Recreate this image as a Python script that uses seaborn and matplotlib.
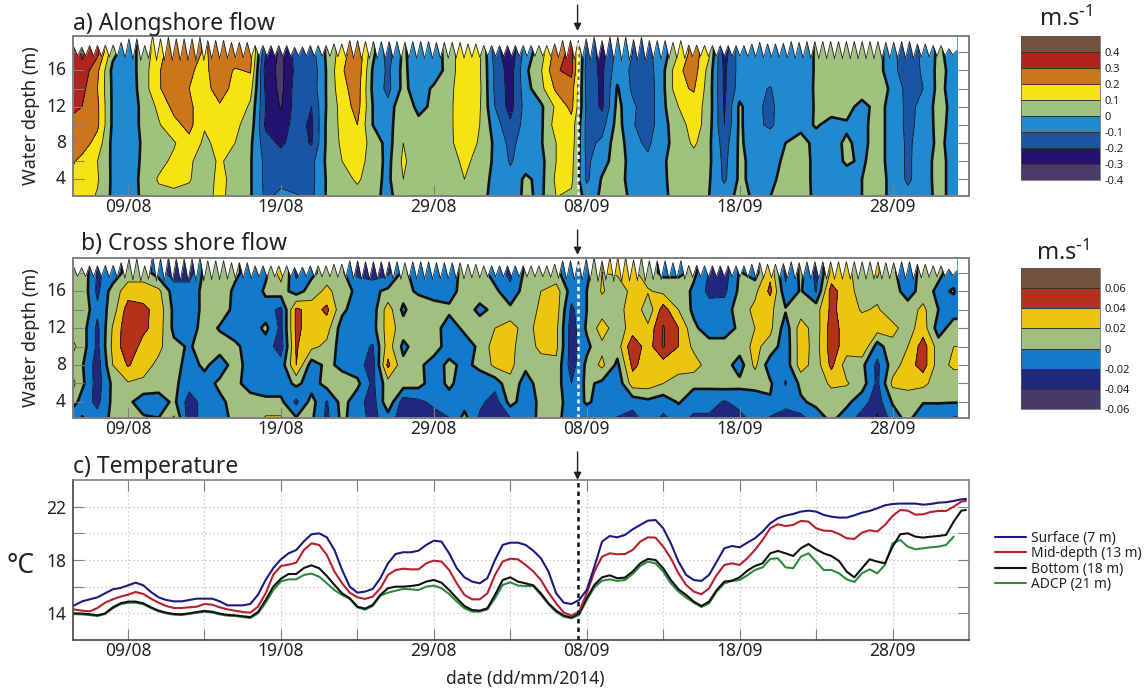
import numpy as np
import pandas as pd
import matplotlib
matplotlib.use("Agg")
import matplotlib.pyplot as plt
from matplotlib.colors import ListedColormap, BoundaryNorm
from matplotlib.transforms import ScaledTranslation
import seaborn as sns

# ---------- data ----------
tick_days = [0, 10, 20, 30, 40, 50]
tick_labels = ["09/08", "19/08", "29/08", "08/09", "18/09", "28/09"]
event_day = 29.4

# columns of the flow fields: days after 09/08
flow_days = [-3.6, -3, -2, -1, 0] + list(range(1, 55)) + [54.25]
flow_depths = [2, 4, 6, 8, 10, 12, 14, 16, 18, 20]

along_18m = [.32,.42,.33,.03,-.06,
 .05,.15,.28,.28,.18,.27,.27,.25,-.2,-.33,
 -.15,-.14,.02,.15,.29,.03,-.15,.02,-.07,-.06,
 .05,.17,.12,-.15,-.28,-.05,.05,.25,.33,-.12,
 -.25,-.06,-.1,-.12,-.05,.1,.25,.12,-.25,-.05,
 -.05,-.05,-.05,-.05,.01,.05,.05,.05,.05,-.08,
 -.15,-.08,.02,-.04,-.04]
along_16m = [.37,.37,.22,-.03,-.06,
 .05,.19,.27,.21,.18,.25,.19,.21,-.25,-.33,
 -.17,-.17,.01,.19,.27,-.01,-.12,.03,-.08,-.07,
 .05,.17,.11,-.12,-.25,-.02,.09,.29,.33,-.15,
 -.22,-.04,-.12,-.15,-.02,.18,.25,.06,-.22,-.06,
 -.08,-.06,-.05,-.05,.01,.05,.05,.06,.05,-.08,
 -.14,-.09,.03,-.03,-.04]
along_14m = [.35,.33,.2,-.02,-.07,
 .05,.19,.26,.2,.17,.24,.17,.14,-.22,-.33,
 -.15,-.16,.01,.17,.25,-.02,-.13,.03,-.06,.02,
 .07,.17,.12,-.12,-.24,-.04,.07,.22,.25,-.13,
 -.22,.01,-.12,-.16,-.02,.18,.21,.05,-.22,-.05,
 -.08,-.105,-.05,-.04,.01,.05,.05,.05,.05,-.02,
 -.14,-.1,.03,-.04,-.04]
along_12m = [.32,.3,.22,-.02,-.07,
 .03,.12,.23,.22,.14,.19,.19,.08,-.2,-.31,
 -.15,-.2,.01,.14,.24,-.0,-.07,.1,-.04,.03,
 .08,.16,.11,-.1,-.24,-.06,-.02,.12,.23,-.12,
 -.22,.03,-.08,-.16,-.02,.1,.16,.05,-.21,.02,
 -.08,-.12,-.05,-.05,.01,.04,.03,-.03,.03,-.03,
 -.13,-.07,.04,-.03,-.03]
along_10m = [.27,.26,.22,-.02,-.07,
 .03,.09,.17,.23,.11,.2,.12,.06,-.22,-.25,
 -.16,-.22,.02,.13,.2,.0,-.05,.1,.04,.07,
 .08,.16,.1,-.05,-.18,-.06,-.02,.15,.16,-.13,
 -.14,.04,-.09,-.16,-.02,.04,.16,.04,-.2,.02,
 -.08,-.115,-.05,-.04,.01,-.03,-.01,-.02,.03,-.03,
 -.13,-.06,.03,-.03,-.03]
along_8m = [.26,.25,.16,-.03,-.08,
 .02,.05,.09,.17,.08,.13,.1,.02,-.16,-.22,
 -.15,-.21,.02,.12,.15,.07,-.04,.1,.04,.04,
 .08,.15,.09,-.02,-.13,-.05,-.01,.1,.15,-.13,
 -.08,.06,-.07,-.12,-.02,.03,.12,.02,-.15,.02,
 -.06,-.05,.0,.05,-.04,-.02,.01,-.02,.03,-.03,
 -.12,-.05,.02,-.03,-.03]
along_6m = [.21,.17,.1,-.02,-.06,
 .02,.07,.12,.12,.04,.12,.04,.01,-.13,-.15,
 -.15,-.13,.02,.1,.14,.06,-.03,.12,.03,.03,
 .06,.12,.07,-.02,-.11,-.05,-.03,.1,.13,-.12,
 -.04,.05,-.04,-.08,-.01,.04,.05,.02,-.13,.02,
 -.03,-.04,.02,.05,-.03,-.03,.01,-.01,.03,-.03,
 -.12,-.04,.03,-.03,-.03]
along_4m = [.17,.16,.11,-.02,-.06,
 .03,.11,.13,.11,.03,.14,.05,.01,-.13,-.13,
 -.14,-.13,.01,.05,.12,.03,-.02,.1,.04,.03,
 .05,.1,.05,-.03,-.07,.02,-.03,.12,.12,-.12,
 .01,.05,-.05,-.05,-.01,.03,.04,.01,-.12,.02,
 -.03,-.02,.03,.05,-.03,-.03,-.03,-.0,.03,-.02,
 -.12,-.04,.03,-.03,-.03]
along_2m = [.14,.14,.09,-.02,-.05,
 .02,.07,.07,.06,.05,.14,.03,.01,-.12,-.07,
 -.09,-.12,.01,.05,.05,.02,-.02,.04,.04,.04,
 .04,.05,.03,-.03,-.05,.02,-.02,.1,.08,-.03,
 .01,.04,-.02,-.05,-.01,.02,.03,.0,-.03,.02,
 -.01,.0,.03,.04,-.02,-.03,-.03,-.0,.03,-.02,
 -.06,-.05,.03,-.03,-.03]

cross_18m = [.01,.015,-.022,-.015,.01,
 .01,-.01,-.03,-.03,.005,.005,.005,-.01,-.005,.03,
 -.025,-.005,.01,.005,-.025,-.03,-.025,.005,-.01,-.01,
 -.015,.01,.01,-.01,-.025,.005,.01,.005,-.015,-.005,
 .02,.022,.025,.01,-.005,-.005,.005,-.022,-.03,.002,
 -.01,.035,-.025,.005,-.025,.025,.025,.01,.022,.005,
 -.015,.01,.005,-.01,-.01]
cross_16m = [.01,.015,-.025,.01,.03,
 .03,.025,-.01,-.01,.005,.015,-.005,-.02,.005,.01,
 -.01,.01,.025,.01,-.005,-.005,.005,.01,-.005,-.005,
 -.01,.01,.01,.005,-.015,.01,.02,.03,-.01,.0,
 .022,.01,.025,.022,.015,.015,-.005,-.025,-.025,.005,
 .015,.045,-.015,.002,-.022,.05,.025,.015,.015,.01,
 -.01,.01,-.005,.002,-.005]
cross_14m = [.01,.015,-.015,.01,.05,
 .045,.032,-.005,-.01,.005,.01,-.005,-.012,-.012,-.025,
 .045,.03,.045,.005,-.012,-.01,.03,-.005,.02,.005,
 .005,.01,-.005,.005,.005,.005,.025,.03,-.025,.0,
 .01,.005,.04,.005,.05,.02,-.005,-.012,-.01,.01,
 .025,.025,.002,.01,.012,.045,.03,.018,.022,.01,
 .01,.025,.0,-.01,-.01]
cross_12m = [.01,.01,-.025,.022,.055,
 .045,.03,-.005,-.012,.01,-.002,-.012,-.012,.005,-.025,
 .045,.03,.028,-.01,-.012,-.008,.03,.01,.01,.01,
 -.012,.005,.01,.02,.03,.01,.03,.025,-.03,.003,
 .03,.008,.03,.025,.062,.04,.005,-.012,-.012,.005,
 .02,.025,-.01,.03,.01,.05,.03,.03,.03,.025,
 .012,.03,-.01,.01,.01]
cross_10m = [.025,.01,-.025,.025,.055,
 .032,.025,.005,-.002,.008,.01,.005,-.01,-.01,-.03,
 .042,.025,.015,-.01,-.012,-.022,.03,-.005,.01,.01,
 -.01,-.012,.005,.03,.025,.01,.025,.025,-.03,-.005,
 .015,.01,.055,.03,.062,.04,.015,.01,.01,.01,
 .025,.012,-.012,.03,.012,.05,.03,.04,-.01,.015,
 .02,.05,.01,.02,.02]
cross_8m = [.01,.002,-.03,.02,.042,
 .028,.015,.01,-.01,.005,-.012,.01,-.01,-.012,-.012,
 .04,-.01,.005,-.005,-.012,-.03,.045,.005,.005,-.01,
 .005,-.005,.005,.025,.025,.005,.012,.015,-.03,.005,
 .025,-.005,.045,.03,.03,.028,.03,.01,.01,-.01,
 .025,-.012,-.012,.03,.01,.045,.01,.005,-.025,.01,
 .03,.05,.01,.025,.025]
cross_6m = [.025,.005,-.03,.005,.018,
 .016,.012,.005,-.012,-.01,.005,.005,-.008,-.012,-.012,
 .005,-.01,.008,.01,.005,-.025,.012,.01,.008,-.012,
 .005,-.012,-.012,-.012,.015,-.01,.01,.01,-.02,.005,
 -.005,-.015,.03,.03,.02,.012,.005,.005,.01,.005,
 .005,.003,-.022,.005,.005,.025,.022,.01,-.025,.025,
 .03,.025,.01,.005,.005]
cross_4m = [.01,-.01,-.025,.005,.005,
 -.012,-.012,.005,-.03,-.012,-.005,.008,.008,.005,.005,
 -.025,.008,-.022,.008,-.012,-.03,.015,-.03,-.025,-.015,
 -.01,-.01,-.015,-.03,.008,-.012,.005,.008,-.01,.002,
 -.005,-.012,-.012,-.005,-.012,.002,-.012,-.012,-.022,-.012,
 -.008,-.002,-.005,-.003,.005,.005,.005,-.012,-.03,.002,
 .003,.002,.001,.001,.001]
cross_2m = [-.025,.003,-.012,.005,.01,
 .005,.002,.025,-.03,-.012,-.008,.005,.005,.025,.025,
 .005,.003,-.025,.005,-.012,-.025,-.012,-.03,-.03,-.03,
 -.022,.01,-.025,-.03,-.025,-.01,.005,.005,-.01,-.012,
 -.012,-.022,-.03,-.012,-.025,-.015,-.025,-.025,-.025,-.03,
 -.012,-.025,-.045,-.03,-.012,.003,-.012,-.03,-.045,-.012,
 .005,-.025,-.012,-.025,-.025]

# tidal sea surface (m): crest and following trough of each tide
tide_crests = [18.6,18.56,18.75,18.75,18.8,18.8,19.1,19.5,19.5,18.75,19.85,19.5,19.66,19.5,19.5,19.5,19.66,19.3,19.3,19.3,
 19.1,19.1,19.1,18.75,18.75,18.75,18.75,18.75,18.56,18.6,18.75,18.75,18.75,18.93,18.93,19.3,19.3,19.2,19.2,19.2,
 19.2,19.2,19.1,19.2,19.2,19.2,19.1,19.1,19.1,19.1,18.93,18.93,18.75,18.75,18.75,
 18.75,18.75,18.75,18.75,18.75,18.75,18.93,19.3,19.3,19.3,19.5,19.7,19.3,19.7,19.7,19.66,19.4,19.66,19.3,19.3,
 19.3,19.1,19.3,18.8,18.8,18.75,18.75,18.75,18.75,18.75,18.75,18.93,19.1,18.93,18.93,19.0,19.2,19.1,19.2,19.2,
 19.2,19.2,19.2,19.2,19.2,19.2,19.2,19.2,19.1,19.1,19.2,19.2,18.93,18.93,18.75,18.75,18.4,18.2]
tide_troughs = [17.6,17.6,17.55,17.55,17.5,17.5,17.4,17.2,17.1,17.3,17.1,17.1,17.1,17.1,17.1,17.1,17.1,17.25,17.25,17.3,
 17.4,17.4,17.4,17.55,17.55,17.55,17.55,17.55,17.6,17.6,17.55,17.55,17.55,17.5,17.45,17.3,17.25,17.3,17.3,17.3,
 17.3,17.3,17.35,17.3,17.3,17.3,17.35,17.35,17.35,17.35,17.45,17.45,17.55,17.55,17.55,
 17.55,17.55,17.55,17.55,17.55,17.5,17.4,17.25,17.25,17.25,17.1,17.05,17.2,17.05,17.05,17.1,17.15,17.1,17.25,17.25,
 17.3,17.35,17.3,17.5,17.55,17.55,17.55,17.55,17.55,17.55,17.5,17.45,17.4,17.45,17.45,17.4,17.3,17.35,17.3,17.3,
 17.3,17.3,17.3,17.3,17.3,17.3,17.3,17.3,17.35,17.35,17.3,17.3,17.45,17.5,17.55,17.6,17.7,17.8]

along_levels = [-.4, -.3, -.2, -.1, 0, .1, .2, .3, .4, .5]
along_colors = ["#4a3b6a", "#23126f", "#1a55a5", "#2189cf", "#a0c27f", "#f7e214", "#cc7619", "#b0231e", "#75513f"]
cross_levels = [-.06, -.04, -.02, 0, .02, .04, .06, .08]
cross_colors = ["#463a68", "#20277e", "#1279cb", "#a1c07f", "#eac610", "#b5321a", "#745240"]
along_bar_labels = ["-0.4", "-0.3", "-0.2", "-0.1", "0", "0.1", "0.2", "0.3", "0.4"]
cross_bar_labels = ["-0.06", "-0.04", "-0.02", "0", "0.02", "0.04", "0.06"]

# temperature (deg C), read every half day
temp_days = [-3.6] + [h / 2 for h in range(-6, 110)] + [54.8]
temp_surface = [14.55,
 14.9,15.05,15.2,15.5,15.8,15.9,16.1,16.3,
 16.1,15.6,15.2,15.0,14.9,14.9,15.0,15.1,15.1,15.1,14.9,14.6,14.6,14.6,14.7,15.4,16.5,17.4,18.05,18.5,18.75,
 19.4,19.93,20.0,19.7,18.75,17.25,16.0,15.55,15.63,15.83,16.63,17.75,18.45,18.58,18.58,18.7,19.13,19.45,19.38,18.5,
 17.38,16.7,16.38,16.25,16.63,18.0,19.13,19.3,19.3,19.13,
 18.7,18.13,17.13,15.5,14.8,14.7,15.0,15.75,17.5,19.38,19.8,19.7,19.88,20.3,20.63,20.95,21.0,20.38,19.25,17.88,
 16.88,16.5,16.43,16.88,17.88,18.88,19.05,18.95,
 19.3,19.63,20.13,20.75,21.13,21.33,21.45,21.63,21.7,21.63,21.38,21.25,21.18,21.18,21.35,21.55,21.68,21.88,22.1,22.2,
 22.23,22.23,22.23,22.15,22.2,22.3,22.33,22.43,22.55,22.58]
temp_mid = [14.3,
 14.2,14.15,14.4,14.8,15.05,15.25,15.4,15.6,
 15.45,15.1,14.8,14.55,14.4,14.4,14.45,14.5,14.7,14.65,14.45,14.3,14.2,14.1,14.05,14.5,15.5,16.9,17.55,17.65,17.8,
 18.75,19.25,19.13,18.38,17.13,16.25,15.55,15.2,15.08,15.25,15.88,16.88,17.25,17.35,17.3,17.3,17.75,17.95,17.88,17.25,
 16.25,15.38,15.05,15.05,15.5,16.88,17.88,18.1,18.05,17.63,
 17.15,16.5,15.55,14.75,14.05,13.83,14.13,15.5,17.13,18.25,18.5,18.43,18.45,18.75,19.38,19.7,19.68,19.0,18.13,17.0,
 16.13,15.63,15.43,15.88,16.88,17.63,17.75,17.63,
 18.13,18.75,19.5,20.38,20.68,20.55,20.63,20.93,20.88,20.38,20.2,20.18,19.95,19.63,19.58,20.05,20.23,20.13,20.63,21.3,
 21.75,21.7,21.4,21.43,21.6,21.68,21.68,22.0,22.38,22.43]
temp_bottom = [14.0,
 13.98,13.93,13.85,14.0,14.45,14.75,14.88,14.88,
 14.75,14.45,14.2,14.05,13.95,13.93,14.0,14.1,14.18,14.12,13.98,13.88,13.85,13.78,13.72,14.1,15.0,16.0,16.6,16.95,16.95,
 17.4,17.6,17.38,16.8,16.13,15.5,15.13,14.5,14.35,14.63,15.38,15.88,16.0,16.0,16.05,16.13,16.38,16.5,16.3,15.75,
 15.13,14.55,14.25,14.2,14.38,15.38,16.5,16.7,16.38,16.25,
 16.1,15.5,14.75,14.2,13.83,13.68,14.0,15.13,16.13,16.7,16.85,16.63,16.68,17.13,17.75,18.08,18.0,17.38,16.5,15.8,
 15.38,14.88,14.55,14.88,15.75,16.38,16.45,16.7,
 17.2,17.55,17.75,18.5,18.68,18.5,18.3,18.88,19.2,18.8,18.5,18.3,17.93,17.13,16.7,17.38,18.05,17.88,17.75,19.0,
 19.93,20.0,19.75,19.68,19.75,19.8,19.88,20.88,21.7,21.75]
temp_adcp = [13.95,
 13.92,13.87,13.8,13.95,14.38,14.68,14.8,14.8,
 14.68,14.4,14.15,14.0,13.9,13.88,13.95,14.05,14.12,14.06,13.92,13.83,13.8,13.72,13.65,14.0,14.8,15.75,16.4,16.55,16.55,
 16.88,16.98,16.75,16.25,15.75,15.38,15.08,14.45,14.28,14.55,15.33,15.55,15.7,15.83,15.8,15.75,16.0,16.08,15.88,15.45,
 14.88,14.38,14.13,14.13,14.3,15.13,16.13,16.33,16.08,16.05,
 16.05,15.38,14.68,14.1,13.75,13.63,13.88,15.0,15.95,16.45,16.55,16.43,16.5,16.95,17.55,17.88,17.75,17.13,16.25,15.63,
 15.18,14.8,14.48,14.75,15.63,16.25,16.43,16.5,
 16.85,17.25,17.45,18.08,18.13,17.45,17.38,18.25,18.5,17.88,17.25,17.25,17.0,16.55,16.35,17.0,17.3,17.0,17.63,19.25,
 19.5,19.0,18.8,18.88,18.95,19.0,19.13,19.75,np.nan,np.nan]
series_names = ["ADCP (21 m)", "Bottom (18 m)", "Mid-depth (13 m)", "Surface (7 m)"]
series_colors = ["#2e8b3e", "#111111", "#b5202e", "#1c1a80"]

# ---------- figure ----------
sns.set_theme(style="ticks")
plt.rcParams["font.family"] = ["Noto Sans", "DejaVu Sans"]
plt.rcParams["mathtext.default"] = "regular"
W, H = 1148, 695
fig = plt.figure(figsize=(W / 100, H / 100), dpi=100)
FRAME = "#7f7f7f"
INK = "#222222"


def px_axes(x0, y0, x1, y1):
    return fig.add_axes([x0 / W, 1 - y1 / H, (x1 - x0) / W, (y1 - y0) / H])


def lift_labels(ax, px):
    for tick in ax.yaxis.get_major_ticks():
        tick.label1.set_transform(tick.label1.get_transform() + ScaledTranslation(0, px / 100, fig.dpi_scale_trans))


def flow_panel(ax, rows, levels, colors, ylim, title_x, title_y, title):
    field = np.array(rows + [rows[-1]])
    cmap = ListedColormap(colors)
    norm = BoundaryNorm(levels, cmap.N)
    cf = ax.contourf(flow_days, flow_depths, field, levels=levels, cmap=cmap, norm=norm)
    widths = [1.9 if abs(lv) < 1e-9 else 0.6 for lv in levels]
    ax.contour(flow_days, flow_depths, field, levels=levels, colors="#111111",
               linewidths=widths, negative_linestyles="solid")
    crest_t = np.linspace(-3.55, 54.2, len(tide_crests))
    step = crest_t[1] - crest_t[0]
    tx = np.ravel(np.column_stack([crest_t, crest_t + step / 2]))
    ty = np.ravel(np.column_stack([tide_crests, tide_troughs]))
    keep = tx <= 54.25
    ax.fill_between(np.r_[-3.6, tx[keep]], np.r_[tide_crests[0], ty[keep]], ylim[1],
                    color="white", lw=0, zorder=3)
    ax.plot(tx[keep], ty[keep], color="#222222", lw=0.6, zorder=4)
    ax.axvline(event_day, color="white", lw=1.8, ls=(0, (1.6, 1.4)), zorder=5)
    ax.set_xlim(-3.6, 55)
    ax.set_ylim(*ylim)
    ax.set_xticks(tick_days, tick_labels)
    ax.set_yticks(range(4, 20, 2), ["4", "", "8", "", "12", "", "16", ""])
    ax.tick_params(axis="both", direction="in", length=8, width=0.8, color=FRAME,
                   top=True, right=True, labelsize=12.5, labelcolor=INK)
    ax.tick_params(axis="x", pad=1.5)
    ax.tick_params(axis="y", pad=5)
    lift_labels(ax, 2)
    ax.set_axisbelow(False)
    for s in ax.spines.values():
        s.set_color(FRAME)
        s.set_linewidth(1.4)
        s.set_zorder(6)
    ax.set_ylabel("Water depth (m)", fontsize=13, color=INK)
    ax.yaxis.set_label_coords((40 - 73) / 896, 0.5)
    fig.text(title_x / W, 1 - title_y / H, title, fontsize=16.5, color=INK)
    return cf


def colorbar(cf, box, labels, levels, title_xy):
    cax = px_axes(*box)
    cb = fig.colorbar(cf, cax=cax, spacing="uniform", ticks=levels[:-1], drawedges=True)
    cb.ax.set_yticklabels(labels)
    cb.minorticks_off()
    cb.ax.tick_params(length=0, labelsize=8, labelcolor=INK, pad=3)
    cb.outline.set_linewidth(0.5)
    cb.outline.set_edgecolor("#555555")
    cb.dividers.set_linewidth(0.7)
    cb.dividers.set_color("#333333")
    fig.text(title_xy[0] / W, 1 - title_xy[1] / H, r"m.s$^{\text{-}1}$", fontsize=17,
             ha="center", va="center", color=INK)


def arrow(ax, y0, y1):
    ax.annotate("", xy=(event_day, y1), xytext=(event_day, y0),
                xycoords=("data", "axes fraction"), textcoords=("data", "axes fraction"),
                arrowprops=dict(arrowstyle="-|>", color=INK, lw=1, mutation_scale=11,
                                shrinkA=0, shrinkB=0), annotation_clip=False)


# a) alongshore
ax_a = px_axes(73, 36, 969, 195.6)
rows_a = [along_2m, along_4m, along_6m, along_8m, along_10m, along_12m, along_14m, along_16m, along_18m]
cf_a = flow_panel(ax_a, rows_a, along_levels, along_colors, (2.2, 19.8), 73, 30, "a) Alongshore flow")
colorbar(cf_a, (1021, 36, 1100, 180), along_bar_labels, along_levels, (1066, 19))
arrow(ax_a, 1.194, 1.031)

# b) cross shore
ax_b = px_axes(73, 258, 969, 418)
rows_b = [cross_2m, cross_4m, cross_6m, cross_8m, cross_10m, cross_12m, cross_14m, cross_16m, cross_18m]
cf_b = flow_panel(ax_b, rows_b, cross_levels, cross_colors, (2.26, 19.6), 81, 250, "b) Cross shore flow")
colorbar(cf_b, (1021, 268, 1100, 409), cross_bar_labels, cross_levels, (1063, 253))
arrow(ax_b, 1.175, 1.019)

# c) temperature
ax_c = px_axes(73, 480, 969, 640)
temps = pd.DataFrame({"day": temp_days, "ADCP (21 m)": temp_adcp, "Bottom (18 m)": temp_bottom,
                      "Mid-depth (13 m)": temp_mid, "Surface (7 m)": temp_surface})
long_t = temps.melt(id_vars="day", var_name="series", value_name="temp").dropna()
sns.lineplot(data=long_t, x="day", y="temp", hue="series", hue_order=series_names,
             palette=series_colors, lw=1.5, errorbar=None, legend=False, sort=False, ax=ax_c)
ax_c.set_xlim(-3.6, 55)
ax_c.set_ylim(12, 24)
five_days = list(range(0, 55, 5))
ax_c.set_xticks(five_days, [tick_labels[i // 10] if i % 10 == 0 else "" for i in five_days])
ax_c.set_yticks([14, 16, 18, 20, 22], ["14", "", "18", "", "22"])
ax_c.set_xlabel("")
ax_c.set_ylabel("")
ax_c.grid(True, color="#b5b5b5", lw=0.8, ls=(0, (1, 2.6)))
ax_c.tick_params(axis="both", direction="in", length=8, width=0.8, color=FRAME,
                 top=True, right=True, labelsize=12.5, labelcolor=INK)
ax_c.tick_params(axis="x", pad=1.5)
ax_c.tick_params(axis="y", pad=5)
for name, s in ax_c.spines.items():
    s.set_color("#444444" if name in ("left", "bottom") else FRAME)
    s.set_linewidth(1.2)
ax_c.axvline(event_day, color="#111111", lw=1.8, ls=(0, (1.8, 1.6)), zorder=5)
arrow(ax_c, 1.175, 1.0)
fig.text(73 / W, 1 - 473 / H, "c) Temperature", fontsize=16.5, color=INK)
fig.text(21 / W, 1 - 566 / H, "°C", fontsize=19, ha="center", va="center", color=INK)
fig.text(525 / W, 1 - 679 / H, "date (dd/mm/2014)", fontsize=12.5, ha="center", va="center", color=INK)

handles = [plt.Line2D([], [], color=c, lw=1.5) for c in series_colors[::-1]]
fig.legend(handles, series_names[::-1], loc="upper left", bbox_to_anchor=(995 / W, 1 - 531 / H),
           frameon=False, fontsize=9.9, handlelength=2.25, handletextpad=0.35, labelspacing=0.02,
           borderpad=0, borderaxespad=0, labelcolor=INK)

fig.savefig("out.png", dpi=100)
